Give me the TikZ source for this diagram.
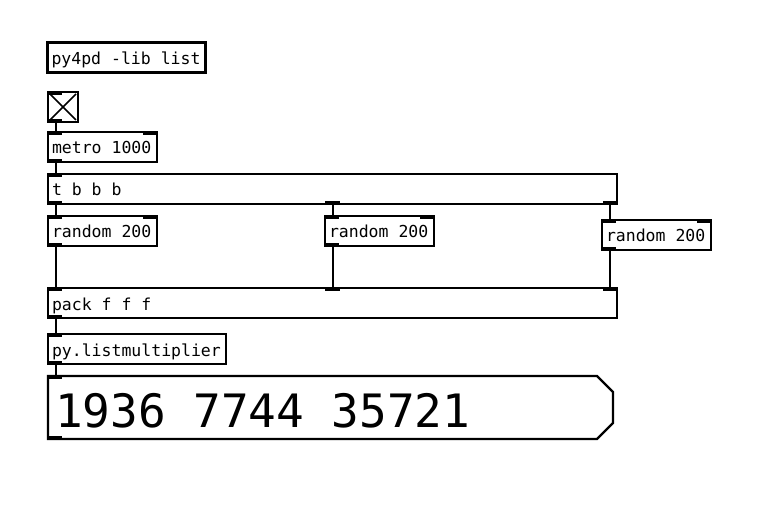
\documentclass[tikz,border=0pt]{standalone}
\usepackage{fontspec}
\newfontfamily\pdfont{DejaVu Sans Mono}
\newcommand\pdsize[1]{\pdfont\fontsize{#1}{#1}\selectfont}
\newcommand\pdsp{\hspace*{0.602em}}

\tikzset{
  pdobj/.style={draw, line width=2.2pt, outer sep=0pt, inner xsep=4pt, inner ysep=0pt,
    anchor=north west, align=left, text height=22pt, text depth=8pt,
    font=\pdsize{16.5}},
  wire/.style={line width=2pt},
}

\begin{document}
\begin{tikzpicture}[x=1pt,y=-1pt]
\useasboundingbox (0,0) rectangle (778,510);
% objects
\node[pdobj, text width=150pt] (lib) at (47.5,42.5) {py4pd\pdsp-lib\pdsp list};
\node[pdobj, minimum width=30pt] (tgl) at (48,92) {};
\node[pdobj, text width=101pt] (metro) at (48,132) {metro\pdsp 1000};
\node[pdobj, text width=561pt] (tbbb) at (48,174) {t\pdsp b\pdsp b\pdsp b};
\node[pdobj, text width=101pt] (rndA) at (48,216) {random\pdsp 200};
\node[pdobj, text width=101pt] (rndB) at (325,216) {random\pdsp 200};
\node[pdobj, text width=101pt] (rndC) at (602,220) {random\pdsp 200};
\node[pdobj, text width=561pt] (pack) at (48,288) {pack\pdsp f\pdsp f\pdsp f};
\node[pdobj, text width=170pt] (pyl) at (48,334) {py.listmultiplier};
\node[pdobj, draw=none, inner xsep=7pt, text width=551pt, text height=51pt, text depth=12pt,
  font=\pdsize{46}] (lst) at (48,376) {1936\pdsp 7744\pdsp 35721};
\draw[line width=2.2pt] (lst.north west) -- ([xshift=-16pt]lst.north east)
  -- ([yshift=-16pt]lst.north east) -- ([yshift=16pt]lst.south east)
  -- ([xshift=-16pt]lst.south east) -- (lst.south west) -- cycle;
% toggle cross
\draw[line width=1.5pt] ([shift={(2pt,-2pt)}]tgl.north west) -- ([shift={(-2pt,2pt)}]tgl.south east);
\draw[line width=1.5pt] ([shift={(2pt,2pt)}]tgl.south west) -- ([shift={(-2pt,-2pt)}]tgl.north east);
% inlets
\foreach \n in {tgl,metro,tbbb,rndA,rndB,rndC,pack,pyl,lst}
  \fill ([shift={(-1.1pt,1.1pt)}]\n.north west) rectangle ++(15,4);
\foreach \n in {metro,rndA,rndB,rndC,pack}
  \fill ([shift={(1.1pt,1.1pt)}]\n.north east) rectangle ++(-15,4);
\fill ([shift={(-7.5pt,1.1pt)}]pack.north) rectangle ++(15,4);
% outlets
\foreach \n in {tgl,metro,tbbb,rndA,rndB,rndC,pack,pyl,lst}
  \fill ([shift={(-1.1pt,-1.1pt)}]\n.south west) rectangle ++(15,-4);
\fill ([shift={(-7.5pt,-1.1pt)}]tbbb.south) rectangle ++(15,-4);
\fill ([shift={(1.1pt,-1.1pt)}]tbbb.south east) rectangle ++(-15,-4);
% connections
\draw[wire] ([xshift=7.5pt]tgl.south west) -- ([xshift=7.5pt]metro.north west);
\draw[wire] ([xshift=7.5pt]metro.south west) -- ([xshift=7.5pt]tbbb.north west);
\draw[wire] ([xshift=7.5pt]tbbb.south west) -- ([xshift=7.5pt]rndA.north west);
\draw[wire] (tbbb.south) -- ([xshift=7.5pt]rndB.north west);
\draw[wire] ([xshift=-7.5pt]tbbb.south east) -- ([xshift=7.5pt]rndC.north west);
\draw[wire] ([xshift=7.5pt]rndA.south west) -- ([xshift=7.5pt]pack.north west);
\draw[wire] ([xshift=7.5pt]rndB.south west) -- (pack.north);
\draw[wire] ([xshift=7.5pt]rndC.south west) -- ([xshift=-7.5pt]pack.north east);
\draw[wire] ([xshift=7.5pt]pack.south west) -- ([xshift=7.5pt]pyl.north west);
\draw[wire] ([xshift=7.5pt]pyl.south west) -- ([xshift=7.5pt]lst.north west);
\end{tikzpicture}
\end{document}
